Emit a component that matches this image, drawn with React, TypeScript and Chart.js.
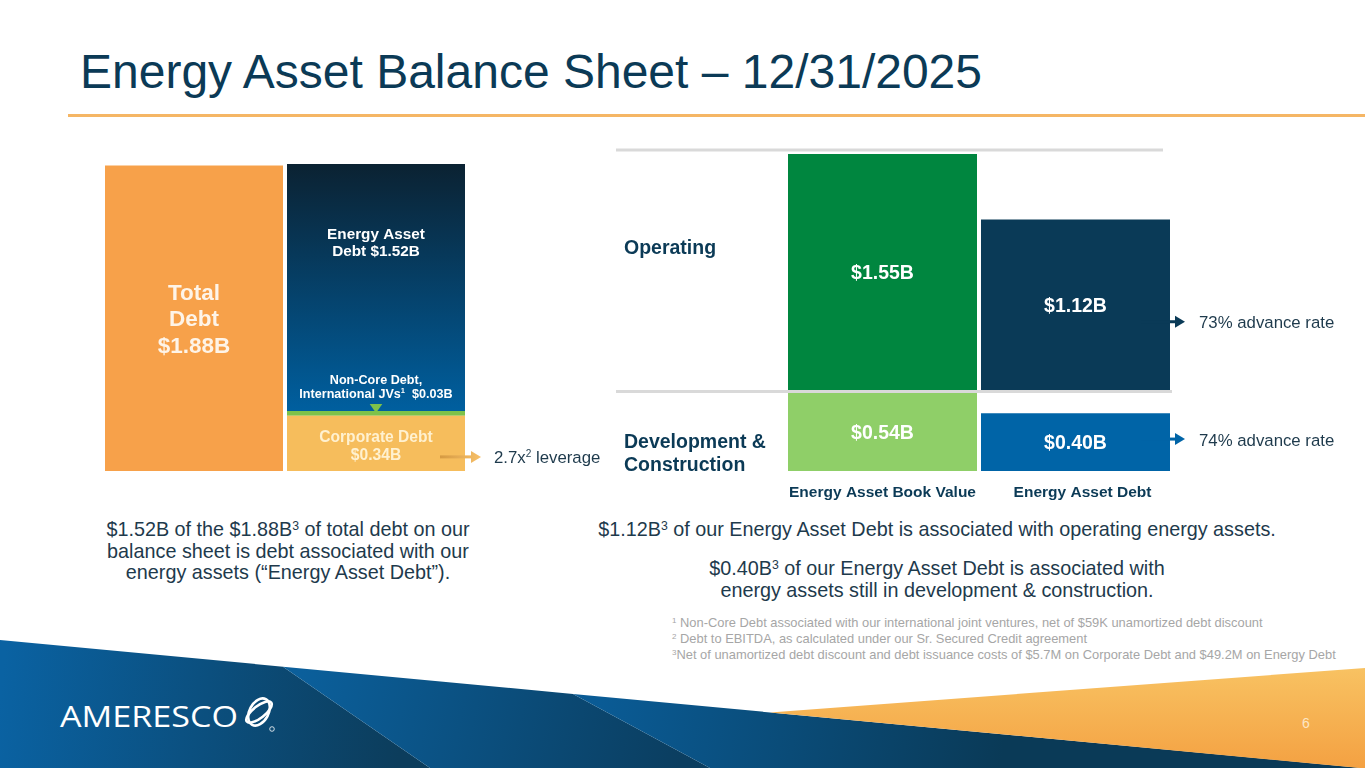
import React, { useEffect, useRef } from "react";
import { Chart, registerables } from "chart.js";

Chart.register(...registerables);

const FONT = "'Liberation Sans', Arial, Helvetica, sans-serif";
const NAVY = "#0b3a56";
const TEXT = "#1e3a4c";

// ---------- Left chart: debt composition ($B)
const debtCategories = ["Total Debt", "Debt Components"];
const totalDebt = [1.88, null];
const corporateDebt = [null, 0.34];
const nonCoreDebt = [null, 0.03];
const energyAssetDebt = [null, 1.52];
const leverageText = "2.7x";

// ---------- Right chart: energy assets ($B)
const assetCategories = ["Energy Asset Book Value", "Energy Asset Debt"];
const segmentNames = ["Operating", "Development & Construction"];
const operatingValues = [1.55, 1.12];
const developmentValues = [0.54, 0.4];
const advanceRates = ["73% advance rate", "74% advance rate"];

const fmt = (v: number) => `$${v.toFixed(2)}B`;

type Run = { t: string; sup?: boolean };
function drawRuns(
  ctx: CanvasRenderingContext2D,
  runs: Run[],
  x: number,
  y: number,
  size: number,
  weight: string,
  color: string,
  align: "left" | "center"
) {
  const font = (s: number) => `${weight} ${s}px ${FONT}`;
  let total = 0;
  const widths = runs.map((r) => {
    ctx.font = font(r.sup ? size * 0.6 : size);
    const w = ctx.measureText(r.t).width;
    total += w;
    return w;
  });
  let cx = align === "center" ? x - total / 2 : x;
  const base = y + 0.358 * size;
  ctx.save();
  ctx.fillStyle = color;
  ctx.textAlign = "left";
  ctx.textBaseline = "alphabetic";
  runs.forEach((r, i) => {
    ctx.font = font(r.sup ? size * 0.6 : size);
    ctx.fillText(r.t, cx, r.sup ? base - size * 0.38 : base);
    cx += widths[i];
  });
  ctx.restore();
}

function drawArrow(
  ctx: CanvasRenderingContext2D,
  x0: number,
  x1: number,
  y: number,
  fill: string | CanvasGradient
) {
  ctx.save();
  ctx.fillStyle = fill;
  ctx.fillRect(x0, y - 1.5, x1 - x0 - 8, 3);
  ctx.beginPath();
  ctx.moveTo(x1 - 10, y - 6);
  ctx.lineTo(x1, y);
  ctx.lineTo(x1 - 10, y + 6);
  ctx.closePath();
  ctx.fill();
  ctx.restore();
}

const leftLabels = {
  id: "leftLabels",
  afterDatasetsDraw(chart: any) {
    const ctx = chart.ctx as CanvasRenderingContext2D;
    const bar = (d: number, i: number) => chart.getDatasetMeta(d).data[i] as any;

    const b0 = bar(0, 0);
    const c0 = (b0.y + b0.base) / 2;
    ["Total", "Debt", fmt(totalDebt[0] as number)].forEach((t, k) =>
      drawRuns(ctx, [{ t }], b0.x, c0 + (k - 1) * 26.3, 22.5, "bold", "#fef4e8", "center")
    );

    const b3 = bar(3, 1);
    drawRuns(ctx, [{ t: "Energy Asset" }], b3.x, b3.y + 69.5, 15.3, "bold", "#ffffff", "center");
    drawRuns(ctx, [{ t: "Debt " + fmt(energyAssetDebt[1] as number) }], b3.x, b3.y + 87, 15.3, "bold", "#ffffff", "center");

    const b2 = bar(2, 1);
    drawRuns(ctx, [{ t: "Non-Core Debt," }], b2.x, b2.y - 31, 12.6, "bold", "#ffffff", "center");
    drawRuns(
      ctx,
      [{ t: "International JVs" }, { t: "1", sup: true }, { t: "  " + fmt(nonCoreDebt[1] as number) }],
      b2.x,
      b2.y - 17.5,
      12.6,
      "bold",
      "#ffffff",
      "center"
    );
    ctx.save();
    ctx.fillStyle = "#7dc24a";
    ctx.beginPath();
    ctx.moveTo(b2.x - 6.3, b2.y - 7);
    ctx.lineTo(b2.x + 6.3, b2.y - 7);
    ctx.lineTo(b2.x, b2.y + 2);
    ctx.closePath();
    ctx.fill();
    ctx.restore();

    const b1 = bar(1, 1);
    const c1 = (b1.y + b1.base) / 2;
    drawRuns(ctx, [{ t: "Corporate Debt" }], b1.x, c1 - 6.8, 15.6, "bold", "#fff1d0", "center");
    drawRuns(ctx, [{ t: fmt(corporateDebt[1] as number) }], b1.x, c1 + 11.5, 15.6, "bold", "#fff1d0", "center");

    const right = b1.x + b1.width / 2;
    const ay = c1 + 13.5;
    const g = ctx.createLinearGradient(right - 25, 0, right + 16, 0);
    g.addColorStop(0, "#d59a42");
    g.addColorStop(1, "#f7c06a");
    drawArrow(ctx, right - 25, right + 16, ay, g);
    drawRuns(
      ctx,
      [{ t: leverageText }, { t: "2", sup: true }, { t: " leverage" }],
      right + 29,
      ay,
      16.8,
      "normal",
      TEXT,
      "left"
    );
  },
};

const rightLabels = {
  id: "rightLabels",
  beforeDatasetsDraw(chart: any) {
    const ctx = chart.ctx as CanvasRenderingContext2D;
    const area = chart.chartArea;
    const yOp = chart.scales.yOp;
    const yDev = chart.scales.yDev;
    ctx.save();
    ctx.fillStyle = "#d9d9d9";
    ctx.fillRect(area.left - 170, area.top - 5.5, area.right - 9 - (area.left - 170), 3);
    ctx.fillRect(area.left - 170, yOp.bottom, area.right - (area.left - 170), 3);
    ctx.restore();
    drawRuns(ctx, [{ t: segmentNames[0] }], area.left - 162, yOp.top + 93, 19.5, "bold", NAVY, "left");
    drawRuns(ctx, [{ t: "Development &" }], area.left - 162, yDev.top + 51, 19.5, "bold", NAVY, "left");
    drawRuns(ctx, [{ t: "Construction" }], area.left - 162, yDev.top + 74, 19.5, "bold", NAVY, "left");
  },
  afterDatasetsDraw(chart: any) {
    const ctx = chart.ctx as CanvasRenderingContext2D;
    const area = chart.chartArea;
    const arrowOffsets = [17, -3];
    chart.data.datasets.forEach((ds: any, d: number) => {
      const meta = chart.getDatasetMeta(d);
      meta.data.forEach((b: any, i: number) => {
        const cy = (b.y + b.base) / 2;
        drawRuns(ctx, [{ t: fmt(ds.data[i]) }], b.x, cy, 19.5, "bold", "#ffffff", "center");
        if (i === 1) {
          const right = b.x + b.width / 2;
          const ay = cy + arrowOffsets[d];
          drawArrow(ctx, right - 29, right + 15, ay, ds.backgroundColor[i]);
          drawRuns(ctx, [{ t: advanceRates[d] }], right + 29, cy + arrowOffsets[d] + 0.5, 16.8, "normal", TEXT, "left");
        }
      });
    });
    const meta0 = chart.getDatasetMeta(0);
    assetCategories.forEach((c, i) => {
      const b = meta0.data[i] as any;
      drawRuns(ctx, [{ t: c }], b.x + (i === 1 ? 7 : 0), area.bottom + 20, 15.5, "bold", NAVY, "center");
    });
  },
};

function LeftChart() {
  const ref = useRef<HTMLCanvasElement>(null);
  useEffect(() => {
    const chart = new Chart(ref.current as HTMLCanvasElement, {
      type: "bar",
      data: {
        labels: debtCategories,
        datasets: [
          { label: "Total Debt", data: totalDebt, backgroundColor: "#f7a14a" },
          { label: "Corporate Debt", data: corporateDebt, backgroundColor: "#f6bd5c" },
          { label: "Non-Core Debt, International JVs", data: nonCoreDebt, backgroundColor: "#7dc24a" },
          {
            label: "Energy Asset Debt",
            data: energyAssetDebt,
            backgroundColor: (c: any) => {
              const ch = c.chart;
              const area = ch.chartArea;
              if (!area) return "#0a3d5f";
              const bottom = ch.scales.y.getPixelForValue((corporateDebt[1] as number) + (nonCoreDebt[1] as number));
              const g = ch.ctx.createLinearGradient(0, area.top, 0, bottom);
              g.addColorStop(0, "#0b2232");
              g.addColorStop(1, "#005f9f");
              return g;
            },
          },
        ] as any,
      },
      options: {
        animation: false,
        responsive: false,
        layout: { padding: { left: 13, right: 148, top: 14, bottom: 9 } },
        datasets: { bar: { barPercentage: 178 / 182, categoryPercentage: 1 } } as any,
        scales: {
          x: { stacked: true, display: false },
          y: { stacked: true, display: false, min: 0, max: 1.89 },
        },
        plugins: { legend: { display: false }, tooltip: { enabled: false } },
      },
      plugins: [leftLabels],
    } as any);
    return () => chart.destroy();
  }, []);
  return (
    <canvas
      ref={ref}
      width={525}
      height={330}
      style={{ position: "absolute", left: 90, top: 150, width: 525, height: 330 }}
    />
  );
}

function RightChart() {
  const ref = useRef<HTMLCanvasElement>(null);
  useEffect(() => {
    const chart = new Chart(ref.current as HTMLCanvasElement, {
      type: "bar",
      data: {
        labels: assetCategories,
        datasets: [
          { label: segmentNames[0], data: operatingValues, yAxisID: "yOp", backgroundColor: ["#00863f", "#0a3a57"] },
          { label: segmentNames[1], data: developmentValues, yAxisID: "yDev", backgroundColor: ["#8fcf68", "#0064a7"] },
        ],
      },
      options: {
        animation: false,
        responsive: false,
        layout: { padding: { left: 186, right: 193, top: 14, bottom: 39 } },
        datasets: { bar: { barPercentage: 189 / 193, categoryPercentage: 1 } } as any,
        scales: {
          x: { type: "category", stacked: true, display: false },
          yOp: { type: "linear", display: false, position: "right", stack: "panels", stackWeight: 236, min: 0, max: 1.55 },
          yDev: { type: "linear", display: false, position: "right", stack: "panels", stackWeight: 81, min: 0, max: 0.56 },
        },
        plugins: { legend: { display: false }, tooltip: { enabled: false } },
      },
      plugins: [rightLabels],
    } as any);
    return () => chart.destroy();
  }, []);
  return (
    <canvas
      ref={ref}
      width={765}
      height={370}
      style={{ position: "absolute", left: 600, top: 140, width: 765, height: 370 }}
    />
  );
}

const supStyle: React.CSSProperties = {
  fontSize: "0.62em",
  verticalAlign: "0",
  position: "relative",
  top: "-0.55em",
  lineHeight: 0,
};

function Decoration() {
  const edge = (x: number) => 640 + 0.0941 * x;
  return (
    <svg
      width={1365}
      height={148}
      viewBox="0 620 1365 148"
      style={{ position: "absolute", left: 0, top: 620 }}
    >
      <defs>
        <linearGradient id="g1" gradientUnits="userSpaceOnUse" x1="0" y1="700" x2="400" y2="740">
          <stop offset="0" stopColor="#0a62a2" />
          <stop offset="1" stopColor="#0c3d5c" />
        </linearGradient>
        <linearGradient id="g2" gradientUnits="userSpaceOnUse" x1="300" y1="680" x2="680" y2="760">
          <stop offset="0" stopColor="#0b5f9b" />
          <stop offset="1" stopColor="#0b3e60" />
        </linearGradient>
        <linearGradient id="g3" gradientUnits="userSpaceOnUse" x1="600" y1="700" x2="1000" y2="768">
          <stop offset="0" stopColor="#0a5b95" />
          <stop offset="1" stopColor="#0a3a57" />
        </linearGradient>
        <linearGradient id="g4" gradientUnits="userSpaceOnUse" x1="0" y1="668" x2="0" y2="768">
          <stop offset="0" stopColor="#f8c262" />
          <stop offset="1" stopColor="#f4a142" />
        </linearGradient>
      </defs>
      <polygon points={`0,${edge(0)} 283,${edge(283)} 430,768 0,768`} fill="url(#g1)" />
      <polygon points={`283,${edge(283)} 573,${edge(573)} 710,768 430,768`} fill="url(#g2)" />
      <polygon points={`573,${edge(573)} 1362,768 710,768`} fill="url(#g3)" />
      <polygon points={`770,${edge(770)} 1365,668 1365,768 1360,768`} fill="url(#g4)" />
      <text
        x={60}
        y={726.5}
        fill="#ffffff"
        fontFamily="'Open Sans', sans-serif"
        fontSize={29.5}
        textLength={178}
        lengthAdjust="spacingAndGlyphs"
      >
        AMERESCO
      </text>
      <g transform="translate(259,712)" fill="none" stroke="#ffffff" strokeWidth={2.6}>
        <ellipse rx={9.5} ry={14.5} transform="rotate(28)" />
        <ellipse rx={15.5} ry={6} transform="rotate(-38)" />
      </g>
      <circle cx={272} cy={729} r={2.3} fill="none" stroke="#ffffff" strokeWidth={0.8} />
      <text x={1302} y={728} fill="#fde6c4" fontFamily={FONT} fontSize={14}>
        6
      </text>
    </svg>
  );
}

export default function App() {
  const descStyle: React.CSSProperties = {
    position: "absolute",
    fontSize: 19.8,
    lineHeight: "21.5px",
    textAlign: "center",
    color: TEXT,
    whiteSpace: "nowrap",
  };
  return (
    <div
      style={{
        position: "fixed",
        left: 0,
        top: 0,
        width: 1365,
        height: 768,
        background: "#ffffff",
        overflow: "hidden",
        fontFamily: FONT,
      }}
    >
      <div
        style={{
          position: "absolute",
          left: 80,
          top: 46,
          fontSize: 48,
          lineHeight: "52px",
          color: NAVY,
          whiteSpace: "nowrap",
        }}
      >
        Energy Asset Balance Sheet – 12/31/2025
      </div>
      <div style={{ position: "absolute", left: 68, top: 114, width: 1297, height: 3, background: "#f5b665" }} />

      <LeftChart />
      <RightChart />

      <div style={{ ...descStyle, left: 38, width: 500, top: 530 - 10.75 }}>
        $1.52B of the $1.88B<sup style={supStyle}>3</sup> of total debt on our
        <br />
        balance sheet is debt associated with our
        <br />
        energy assets (“Energy Asset Debt”).
      </div>

      <div style={{ ...descStyle, left: 537, width: 800, top: 530 - 10.75 }}>
        $1.12B<sup style={supStyle}>3</sup> of our Energy Asset Debt is associated with operating energy assets.
      </div>
      <div style={{ ...descStyle, left: 537, width: 800, top: 569 - 10.75 }}>
        $0.40B<sup style={supStyle}>3</sup> of our Energy Asset Debt is associated with
        <br />
        energy assets still in development &amp; construction.
      </div>

      <div
        style={{
          position: "absolute",
          left: 672,
          top: 615,
          fontSize: 12.9,
          lineHeight: "16px",
          color: "#a6a6a6",
          whiteSpace: "nowrap",
        }}
      >
        <sup style={supStyle}>1</sup> Non-Core Debt associated with our international joint ventures, net of $59K unamortized debt discount
        <br />
        <sup style={supStyle}>2</sup> Debt to EBITDA, as calculated under our Sr. Secured Credit agreement
        <br />
        <sup style={supStyle}>3</sup>Net of unamortized debt discount and debt issuance costs of $5.7M on Corporate Debt and $49.2M on Energy Debt
      </div>

      <Decoration />
    </div>
  );
}
